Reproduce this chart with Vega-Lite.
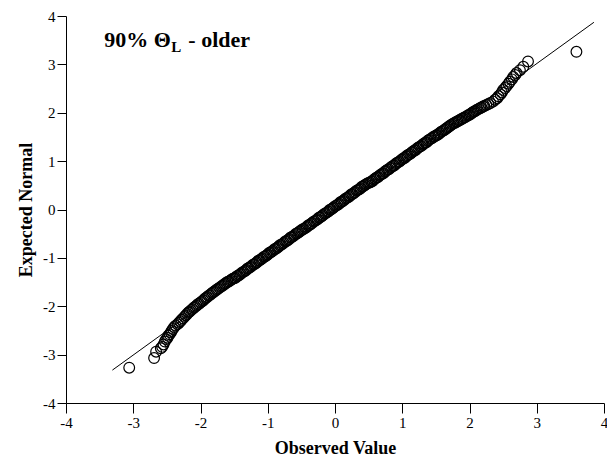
{
  "$schema": "https://vega.github.io/schema/vega-lite/v6.json",
  "width": 538,
  "height": 387,
  "autosize": {"type": "none"},
  "padding": {"left": 66, "top": 16, "right": 3, "bottom": 62},
  "background": "white",
  "config": {
    "view": {"stroke": null},
    "font": "Liberation Serif",
    "axis": {
      "grid": false,
      "domainColor": "black",
      "domainWidth": 1,
      "tickColor": "black",
      "tickWidth": 1,
      "labelFont": "Liberation Serif",
      "labelFontSize": 15,
      "labelColor": "black",
      "labelPadding": 2,
      "labelFlush": false,
      "labelOverlap": false,
      "labelBound": false,
      "labelExpr": "'' + datum.value",
      "titleFont": "Liberation Serif",
      "titleFontSize": 18,
      "titleFontWeight": "bold",
      "titleColor": "black"
    }
  },
  "datasets": {
    "pts": [
      {"x": -3.06, "y": -3.27}, {"x": -2.69, "y": -3.07}, {"x": -2.66, "y": -2.94}, {"x": -2.59, "y": -2.87}, {"x": -2.57, "y": -2.84}, {"x": -2.55, "y": -2.79}, {"x": -2.53, "y": -2.73}, {"x": -2.51, "y": -2.68}, {"x": -2.49, "y": -2.65}, {"x": -2.48, "y": -2.61}, {"x": -2.46, "y": -2.58}, {"x": -2.44, "y": -2.54}, {"x": -2.43, "y": -2.51}, {"x": -2.41, "y": -2.47}, {"x": -2.39, "y": -2.43}, {"x": -2.37, "y": -2.40},
      {"x": -2.34, "y": -2.37}, {"x": -2.32, "y": -2.34}, {"x": -2.30, "y": -2.31}, {"x": -2.28, "y": -2.28}, {"x": -2.26, "y": -2.25}, {"x": -2.24, "y": -2.22}, {"x": -2.22, "y": -2.19}, {"x": -2.20, "y": -2.16},
      {"x": -2.18, "y": -2.13}, {"x": -2.16, "y": -2.11}, {"x": -2.14, "y": -2.08}, {"x": -2.12, "y": -2.06}, {"x": -2.10, "y": -2.03}, {"x": -2.08, "y": -2.01}, {"x": -2.06, "y": -1.99}, {"x": -2.04, "y": -1.96}, {"x": -2.02, "y": -1.95}, {"x": -2.00, "y": -1.92}, {"x": -1.98, "y": -1.90}, {"x": -1.96, "y": -1.88}, {"x": -1.94, "y": -1.85}, {"x": -1.92, "y": -1.83}, {"x": -1.90, "y": -1.81}, {"x": -1.88, "y": -1.78}, {"x": -1.86, "y": -1.77}, {"x": -1.84, "y": -1.74}, {"x": -1.82, "y": -1.72}, {"x": -1.80, "y": -1.70}, {"x": -1.78, "y": -1.68}, {"x": -1.76, "y": -1.66}, {"x": -1.74, "y": -1.64}, {"x": -1.72, "y": -1.62}, {"x": -1.70, "y": -1.60}, {"x": -1.68, "y": -1.58}, {"x": -1.66, "y": -1.56}, {"x": -1.64, "y": -1.54}, {"x": -1.62, "y": -1.52}, {"x": -1.60, "y": -1.50}, {"x": -1.58, "y": -1.49}, {"x": -1.56, "y": -1.47}, {"x": -1.54, "y": -1.45}, {"x": -1.52, "y": -1.43}, {"x": -1.50, "y": -1.42},
      {"x": -1.48, "y": -1.41}, {"x": -1.46, "y": -1.38}, {"x": -1.44, "y": -1.37}, {"x": -1.42, "y": -1.35}, {"x": -1.40, "y": -1.33}, {"x": -1.38, "y": -1.30}, {"x": -1.36, "y": -1.29}, {"x": -1.34, "y": -1.27}, {"x": -1.32, "y": -1.25}, {"x": -1.30, "y": -1.22}, {"x": -1.28, "y": -1.21}, {"x": -1.26, "y": -1.19}, {"x": -1.24, "y": -1.17}, {"x": -1.22, "y": -1.14}, {"x": -1.20, "y": -1.13}, {"x": -1.18, "y": -1.11}, {"x": -1.16, "y": -1.09}, {"x": -1.14, "y": -1.06}, {"x": -1.12, "y": -1.05}, {"x": -1.10, "y": -1.03}, {"x": -1.08, "y": -1.01}, {"x": -1.06, "y": -0.98}, {"x": -1.04, "y": -0.97}, {"x": -1.02, "y": -0.95}, {"x": -1.00, "y": -0.93}, {"x": -0.98, "y": -0.90}, {"x": -0.96, "y": -0.89}, {"x": -0.94, "y": -0.87}, {"x": -0.92, "y": -0.85}, {"x": -0.90, "y": -0.82}, {"x": -0.88, "y": -0.81}, {"x": -0.86, "y": -0.79}, {"x": -0.84, "y": -0.77}, {"x": -0.82, "y": -0.74}, {"x": -0.80, "y": -0.73}, {"x": -0.78, "y": -0.71}, {"x": -0.76, "y": -0.69}, {"x": -0.74, "y": -0.66}, {"x": -0.72, "y": -0.65}, {"x": -0.70, "y": -0.63}, {"x": -0.68, "y": -0.61}, {"x": -0.66, "y": -0.58}, {"x": -0.64, "y": -0.57}, {"x": -0.62, "y": -0.55}, {"x": -0.60, "y": -0.53}, {"x": -0.58, "y": -0.50}, {"x": -0.56, "y": -0.49}, {"x": -0.54, "y": -0.47}, {"x": -0.52, "y": -0.45}, {"x": -0.50, "y": -0.43},
      {"x": -0.48, "y": -0.41}, {"x": -0.46, "y": -0.40}, {"x": -0.44, "y": -0.38}, {"x": -0.42, "y": -0.36}, {"x": -0.40, "y": -0.33}, {"x": -0.38, "y": -0.32}, {"x": -0.36, "y": -0.30}, {"x": -0.34, "y": -0.28}, {"x": -0.32, "y": -0.25}, {"x": -0.30, "y": -0.24}, {"x": -0.28, "y": -0.22}, {"x": -0.26, "y": -0.20}, {"x": -0.24, "y": -0.17}, {"x": -0.22, "y": -0.16}, {"x": -0.20, "y": -0.14}, {"x": -0.18, "y": -0.12}, {"x": -0.16, "y": -0.09}, {"x": -0.14, "y": -0.08}, {"x": -0.12, "y": -0.06}, {"x": -0.10, "y": -0.04}, {"x": -0.08, "y": -0.01}, {"x": -0.06, "y": 0.00}, {"x": -0.04, "y": 0.02}, {"x": -0.02, "y": 0.04}, {"x": 0.00, "y": 0.07}, {"x": 0.02, "y": 0.08}, {"x": 0.04, "y": 0.10}, {"x": 0.06, "y": 0.12}, {"x": 0.08, "y": 0.15}, {"x": 0.10, "y": 0.16}, {"x": 0.12, "y": 0.18}, {"x": 0.14, "y": 0.20}, {"x": 0.16, "y": 0.23}, {"x": 0.18, "y": 0.24}, {"x": 0.20, "y": 0.26}, {"x": 0.22, "y": 0.28}, {"x": 0.24, "y": 0.31}, {"x": 0.26, "y": 0.32}, {"x": 0.28, "y": 0.34}, {"x": 0.30, "y": 0.36}, {"x": 0.32, "y": 0.39}, {"x": 0.34, "y": 0.40}, {"x": 0.36, "y": 0.42}, {"x": 0.38, "y": 0.44}, {"x": 0.40, "y": 0.47}, {"x": 0.42, "y": 0.48}, {"x": 0.44, "y": 0.50}, {"x": 0.46, "y": 0.52}, {"x": 0.48, "y": 0.54},
      {"x": 0.50, "y": 0.55}, {"x": 0.52, "y": 0.56}, {"x": 0.54, "y": 0.58}, {"x": 0.56, "y": 0.59}, {"x": 0.58, "y": 0.62}, {"x": 0.60, "y": 0.64}, {"x": 0.62, "y": 0.66}, {"x": 0.64, "y": 0.67}, {"x": 0.66, "y": 0.70}, {"x": 0.68, "y": 0.72}, {"x": 0.70, "y": 0.74}, {"x": 0.72, "y": 0.75}, {"x": 0.74, "y": 0.78}, {"x": 0.76, "y": 0.80}, {"x": 0.78, "y": 0.82}, {"x": 0.80, "y": 0.83}, {"x": 0.82, "y": 0.86}, {"x": 0.84, "y": 0.88}, {"x": 0.86, "y": 0.90}, {"x": 0.88, "y": 0.91}, {"x": 0.90, "y": 0.94}, {"x": 0.92, "y": 0.96}, {"x": 0.94, "y": 0.98}, {"x": 0.96, "y": 0.99}, {"x": 0.98, "y": 1.02}, {"x": 1.00, "y": 1.04}, {"x": 1.02, "y": 1.06}, {"x": 1.04, "y": 1.07}, {"x": 1.06, "y": 1.10}, {"x": 1.08, "y": 1.12}, {"x": 1.10, "y": 1.14}, {"x": 1.12, "y": 1.15}, {"x": 1.14, "y": 1.18}, {"x": 1.16, "y": 1.20}, {"x": 1.18, "y": 1.22}, {"x": 1.20, "y": 1.23}, {"x": 1.22, "y": 1.26}, {"x": 1.24, "y": 1.28}, {"x": 1.26, "y": 1.30}, {"x": 1.28, "y": 1.31}, {"x": 1.30, "y": 1.34}, {"x": 1.32, "y": 1.36}, {"x": 1.34, "y": 1.38}, {"x": 1.36, "y": 1.39}, {"x": 1.38, "y": 1.42}, {"x": 1.40, "y": 1.44}, {"x": 1.42, "y": 1.46}, {"x": 1.44, "y": 1.47}, {"x": 1.46, "y": 1.50}, {"x": 1.48, "y": 1.51},
      {"x": 1.50, "y": 1.53}, {"x": 1.52, "y": 1.54}, {"x": 1.54, "y": 1.56}, {"x": 1.56, "y": 1.58}, {"x": 1.58, "y": 1.61}, {"x": 1.60, "y": 1.62}, {"x": 1.62, "y": 1.64}, {"x": 1.64, "y": 1.66}, {"x": 1.66, "y": 1.68}, {"x": 1.68, "y": 1.70}, {"x": 1.70, "y": 1.72}, {"x": 1.72, "y": 1.74}, {"x": 1.74, "y": 1.76}, {"x": 1.76, "y": 1.78}, {"x": 1.78, "y": 1.79}, {"x": 1.80, "y": 1.81},
      {"x": 1.82, "y": 1.82}, {"x": 1.84, "y": 1.84}, {"x": 1.86, "y": 1.85}, {"x": 1.88, "y": 1.87}, {"x": 1.90, "y": 1.88}, {"x": 1.92, "y": 1.90}, {"x": 1.94, "y": 1.91}, {"x": 1.96, "y": 1.93}, {"x": 1.98, "y": 1.95}, {"x": 2.00, "y": 1.96}, {"x": 2.02, "y": 1.98}, {"x": 2.04, "y": 2.00}, {"x": 2.06, "y": 2.02}, {"x": 2.08, "y": 2.03}, {"x": 2.10, "y": 2.05}, {"x": 2.12, "y": 2.07}, {"x": 2.14, "y": 2.08}, {"x": 2.16, "y": 2.10}, {"x": 2.18, "y": 2.11}, {"x": 2.20, "y": 2.13}, {"x": 2.22, "y": 2.14},
      {"x": 2.25, "y": 2.16}, {"x": 2.28, "y": 2.18}, {"x": 2.31, "y": 2.20}, {"x": 2.35, "y": 2.23}, {"x": 2.38, "y": 2.27}, {"x": 2.41, "y": 2.30}, {"x": 2.43, "y": 2.34}, {"x": 2.46, "y": 2.38}, {"x": 2.48, "y": 2.42}, {"x": 2.50, "y": 2.47}, {"x": 2.53, "y": 2.51}, {"x": 2.55, "y": 2.55}, {"x": 2.58, "y": 2.60}, {"x": 2.60, "y": 2.64}, {"x": 2.63, "y": 2.69}, {"x": 2.65, "y": 2.74}, {"x": 2.68, "y": 2.78}, {"x": 2.70, "y": 2.82}, {"x": 2.75, "y": 2.88}, {"x": 2.80, "y": 2.95}, {"x": 2.87, "y": 3.06}, {"x": 3.59, "y": 3.26}
    ],
    "fit": [
      {"x": -3.31, "y": -3.32},
      {"x": 3.85, "y": 3.87}
    ],
    "ttl": [
      {"a": "90% Θ", "b": "L", "c": "- older"}
    ]
  },
  "layer": [
    {
      "data": {"name": "pts"},
      "mark": {"type": "point", "shape": "circle", "filled": false, "stroke": "black", "strokeWidth": 1.2, "size": 115, "opacity": 1},
      "encoding": {
        "x": {
          "field": "x", "type": "quantitative",
          "scale": {"domain": [-4, 4], "nice": false, "zero": false},
          "axis": {"values": [-4, -3, -2, -1, 0, 1, 2, 3, 4], "tickSize": 10, "title": "Observed Value", "titlePadding": 9}
        },
        "y": {
          "field": "y", "type": "quantitative",
          "scale": {"domain": [-4, 4], "nice": false, "zero": false},
          "axis": {"values": [-4, -3, -2, -1, 0, 1, 2, 3, 4], "tickSize": 9, "title": "Expected Normal", "titlePadding": 7}
        }
      }
    },
    {
      "data": {"name": "fit"},
      "mark": {"type": "line", "color": "black", "strokeWidth": 1},
      "encoding": {
        "x": {"field": "x", "type": "quantitative"},
        "y": {"field": "y", "type": "quantitative"}
      }
    },
    {
      "data": {"name": "ttl"},
      "mark": {"type": "text", "font": "Liberation Serif", "fontSize": 22, "fontWeight": "bold", "align": "left", "baseline": "alphabetic", "color": "black"},
      "encoding": {
        "text": {"field": "a"},
        "x": {"datum": -3.43, "type": "quantitative"},
        "y": {"datum": 3.36, "type": "quantitative"}
      }
    },
    {
      "data": {"name": "ttl"},
      "mark": {"type": "text", "font": "Liberation Serif", "fontSize": 15, "fontWeight": "bold", "align": "left", "baseline": "alphabetic", "color": "black", "dx": 67, "dy": 5},
      "encoding": {
        "text": {"field": "b"},
        "x": {"datum": -3.43, "type": "quantitative"},
        "y": {"datum": 3.36, "type": "quantitative"}
      }
    },
    {
      "data": {"name": "ttl"},
      "mark": {"type": "text", "font": "Liberation Serif", "fontSize": 22, "fontWeight": "bold", "align": "left", "baseline": "alphabetic", "color": "black", "dx": 84},
      "encoding": {
        "text": {"field": "c"},
        "x": {"datum": -3.43, "type": "quantitative"},
        "y": {"datum": 3.36, "type": "quantitative"}
      }
    }
  ]
}
